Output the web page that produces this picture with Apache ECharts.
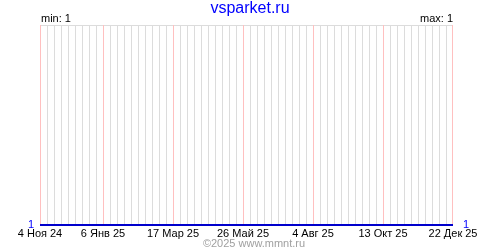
<!DOCTYPE html>
<html><head><meta charset="utf-8">
<script src="https://cdn.jsdelivr.net/npm/echarts@6/dist/echarts.min.js"></script>
<style>html,body{margin:0;padding:0;background:#fff}#c{width:500px;height:250px}</style>
</head><body><div id="c"></div>
<script>
const startDate = '2024-11-04';
const endDate = '2025-12-22';
const seriesDates = ['2024-11-04', '2025-12-22'];
const seriesValues = [1, 1];
const tickDates = ['2024-11-04','2025-01-06','2025-03-17','2025-05-26','2025-08-04','2025-10-13','2025-12-22'];
const tickLabels = ['4 Ноя 24','6 Янв 25','17 Мар 25','26 Май 25','4 Авг 25','13 Окт 25','22 Дек 25'];
const minValue = 1, maxValue = 1;

const DAY = 86400000;
const day = s => Math.round((Date.parse(s + 'T00:00:00Z') - Date.parse(startDate + 'T00:00:00Z')) / DAY);
const labelMap = {};
tickDates.forEach((d, i) => labelMap[day(d)] = tickLabels[i]);
const totalDays = day(endDate);
const font = 'Liberation Sans, Arial, sans-serif';
const PIXEL_CENTER = 0.5;

// weekly grid lines (gray) and labelled-date lines (pink), positioned through the axis scale
const weekData = [], markerData = [];
const crisp = v => Math.min(v + PIXEL_CENTER, totalDays - PIXEL_CENTER);
for (let t = 0; t <= totalDays; t += 7) {
  if (!labelMap[t]) weekData.push([crisp(t), 1], [crisp(t), 2], '-');
}
tickDates.forEach(d => markerData.push([crisp(day(d)), 1], [crisp(day(d)), 2], '-'));

const chart = echarts.init(document.getElementById('c'), null, {renderer: 'canvas'});
chart.setOption({
  animation: false,
  grid: {left: 40, right: 47, top: 25, bottom: 25},
  title: [
    {text: 'vsparket.ru', left: 'center', top: 1, padding: 0, textStyle: {color: '#0000ff', fontSize: 16, fontWeight: 'normal', fontFamily: font}},
    {text: '©2025 www.mmnt.ru', left: 254, top: 238, padding: 0, textAlign: 'center', textStyle: {color: '#a0a0a0', fontSize: 11, fontWeight: 'normal', fontFamily: font}},
    {text: 'min: ' + minValue, left: 41, top: 13, padding: 0, textStyle: {color: '#000', fontSize: 11, fontWeight: 'normal', fontFamily: font}},
    {text: 'max: ' + maxValue, right: 47, top: 13, padding: 0, textStyle: {color: '#000', fontSize: 11, fontWeight: 'normal', fontFamily: font}}
  ],
  xAxis: {
    type: 'value', min: 0, max: totalDays, interval: 7,
    axisLine: {show: false}, axisTick: {show: false},
    splitLine: {show: false},
    axisLabel: {
      show: true, margin: 3, color: '#000', fontSize: 11, fontFamily: font,
      showMinLabel: true, showMaxLabel: true, hideOverlap: false,
      formatter: v => labelMap[v] || ''
    }
  },
  yAxis: [
    {type: 'value', min: 1, max: 2, interval: 1, position: 'left',
     axisLine: {show: false}, axisTick: {show: false},
     splitLine: {show: true, lineStyle: {color: '#dcdcdc'}},
     axisLabel: {color: '#0000ff', fontSize: 11, fontFamily: font, margin: 6, formatter: v => v === minValue ? String(v) : ''}},
    {type: 'value', min: 1, max: 2, interval: 1, position: 'right',
     axisLine: {show: false}, axisTick: {show: false}, splitLine: {show: false},
     axisLabel: {color: '#0000ff', fontSize: 11, fontFamily: font, margin: 10, formatter: v => v === maxValue ? String(v) : ''}}
  ],
  series: [
    {
      type: 'line', symbol: 'none', silent: true, connectNulls: false,
      data: weekData, lineStyle: {color: '#dcdcdc', width: 1}, z: 2
    },
    {
      type: 'line', symbol: 'none', silent: true, connectNulls: false,
      data: markerData, lineStyle: {color: '#ffc0c0', width: 1}, z: 3
    },
    {
      type: 'line', symbol: 'none', silent: true,
      data: seriesDates.map((d, i) => [day(d), seriesValues[i]]),
      lineStyle: {color: '#0000cc', width: 2},
      z: 5
    }
  ]
});
</script></body></html>
